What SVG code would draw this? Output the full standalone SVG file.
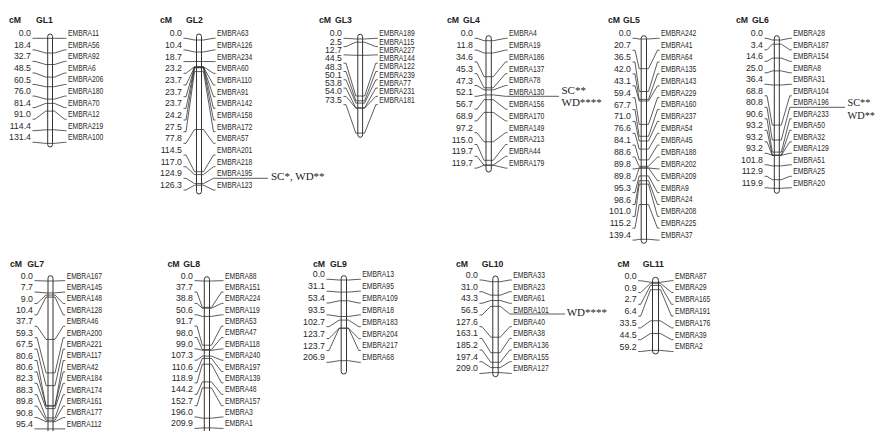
<svg xmlns="http://www.w3.org/2000/svg" width="876" height="431" viewBox="0 0 876 431">
<style>
.hd{font:bold 8.7px "Liberation Sans",Arial,sans-serif;fill:#222}
.num text{font:8.8px "Liberation Sans",Arial,sans-serif;fill:#2a2a2a;text-anchor:end}
.lab text{font:8.8px "Liberation Sans",Arial,sans-serif;fill:#2a2a2a}
.chr{fill:#fff;stroke:#333;stroke-width:1}
#connectors polyline,#connectors line{fill:none;stroke:#333;stroke-width:0.8}
.qtl{font:11px "Liberation Serif","Times New Roman",serif;fill:#222}
</style>
<rect width="876" height="431" fill="#fff"/>

<g id="GL1">
<text class="hd" x="9" y="22.5">cM</text><text class="hd" x="36" y="22.5">GL1</text>
<rect class="chr" x="47.7" y="34" width="4.8" height="113" rx="2.4"/>
<g class="num" transform="translate(31,0)"><text y="36.3">0.0</text><text y="47.9">18.4</text><text y="59.4">32.7</text><text y="71">48.5</text><text y="82.5">60.5</text><text y="94.1">76.0</text><text y="105.6">81.4</text><text y="117.2">91.0</text><text y="128.7">114.4</text><text y="140.3">131.4</text></g>
<g class="lab" transform="translate(68,0) scale(0.77,1)"><text y="36.3">EMBRA11</text><text y="47.9">EMBRA56</text><text y="59.4">EMBRA92</text><text y="71">EMBRA6</text><text y="82.5">EMBRA206</text><text y="94.1">EMBRA180</text><text y="105.6">EMBRA70</text><text y="117.2">EMBRA12</text><text y="128.7">EMBRA219</text><text y="140.3">EMBRA100</text></g>
</g>

<g id="GL2">
<text class="hd" x="160" y="22.5">cM</text><text class="hd" x="186" y="22.5">GL2</text>
<rect class="chr" x="196.5" y="34" width="5" height="160" rx="2.5"/>
<g class="num" transform="translate(182,0)"><text y="36.3">0.0</text><text y="48">10.4</text><text y="59.6">18.7</text><text y="71.3">23.2</text><text y="83">23.7</text><text y="94.7">23.7</text><text y="106.3">23.7</text><text y="118">24.2</text><text y="129.7">27.5</text><text y="141.3">77.8</text><text y="153">114.5</text><text y="164.7">117.0</text><text y="176.3">124.9</text><text y="188">126.3</text></g>
<g class="lab" transform="translate(217,0) scale(0.77,1)"><text y="36.3">EMBRA63</text><text y="48">EMBRA126</text><text y="59.6">EMBRA234</text><text y="71.3">EMBRA60</text><text y="83">EMBRA110</text><text y="94.7">EMBRA91</text><text y="106.3">EMBRA142</text><text y="118">EMBRA158</text><text y="129.7">EMBRA172</text><text y="141.3">EMBRA57</text><text y="153">EMBRA201</text><text y="164.7">EMBRA218</text><text y="176.3">EMBRA195</text><text y="188">EMBRA123</text></g>
<text class="qtl" x="271" y="180">SC*, WD**</text>
</g>

<g id="GL3">
<text class="hd" x="319" y="22.5">cM</text><text class="hd" x="335" y="22.5">GL3</text>
<rect class="chr" x="357.8" y="34.3" width="4.8" height="103" rx="2.4"/>
<g class="num" transform="translate(342,0)"><text y="36.3">0.0</text><text y="44.6">2.5</text><text y="52.9">12.7</text><text y="61.2">44.5</text><text y="69.5">48.3</text><text y="77.8">50.1</text><text y="86.1">53.8</text><text y="94.4">54.0</text><text y="102.7">73.5</text></g>
<g class="lab" transform="translate(379.3,0) scale(0.77,1)"><text y="36.3">EMBRA189</text><text y="44.6">EMBRA115</text><text y="52.9">EMBRA227</text><text y="61.2">EMBRA144</text><text y="69.5">EMBRA122</text><text y="77.8">EMBRA239</text><text y="86.1">EMBRA77</text><text y="94.4">EMBRA231</text><text y="102.7">EMBRA181</text></g>
</g>

<g id="GL4">
<text class="hd" x="447" y="22.5">cM</text><text class="hd" x="463" y="22.5">GL4</text>
<rect class="chr" x="486" y="35.7" width="5.3" height="136.3" rx="2.6"/>
<g class="num" transform="translate(473,0)"><text y="36.3">0.0</text><text y="48.1">11.8</text><text y="59.9">34.6</text><text y="71.7">45.3</text><text y="83.5">47.3</text><text y="95.3">52.1</text><text y="107.1">56.7</text><text y="118.9">68.9</text><text y="130.7">97.2</text><text y="142.5">115.0</text><text y="154.3">119.7</text><text y="166.1">119.7</text></g>
<g class="lab" transform="translate(509,0) scale(0.77,1)"><text y="36.3">EMBRA4</text><text y="48.1">EMBRA19</text><text y="59.9">EMBRA186</text><text y="71.7">EMBRA137</text><text y="83.5">EMBRA78</text><text y="95.3">EMBRA130</text><text y="107.1">EMBRA156</text><text y="118.9">EMBRA170</text><text y="130.7">EMBRA149</text><text y="142.5">EMBRA213</text><text y="154.3">EMBRA44</text><text y="166.1">EMBRA179</text></g>
<text class="qtl" x="561.5" y="94">SC**</text><text class="qtl" x="561.5" y="105.5">WD****</text>
</g>

<g id="GL5">
<text class="hd" x="608" y="22.5">cM</text><text class="hd" x="623" y="22.5">GL5</text>
<rect class="chr" x="641.2" y="35.7" width="5.3" height="207.6" rx="2.6"/>
<g class="num" transform="translate(631,0)"><text y="36.3">0.0</text><text y="48.2">20.7</text><text y="60">36.5</text><text y="71.9">42.0</text><text y="83.8">43.1</text><text y="95.7">59.4</text><text y="107.5">67.7</text><text y="119.4">71.0</text><text y="131.3">76.6</text><text y="143.1">84.1</text><text y="155">88.6</text><text y="166.9">89.8</text><text y="178.7">89.8</text><text y="190.6">95.3</text><text y="202.5">98.6</text><text y="214.4">101.0</text><text y="226.2">115.2</text><text y="238.1">139.4</text></g>
<g class="lab" transform="translate(661,0) scale(0.77,1)"><text y="36.3">EMBRA242</text><text y="48.2">EMBRA41</text><text y="60">EMBRA64</text><text y="71.9">EMBRA135</text><text y="83.8">EMBRA143</text><text y="95.7">EMBRA229</text><text y="107.5">EMBRA160</text><text y="119.4">EMBRA237</text><text y="131.3">EMBRA54</text><text y="143.1">EMBRA45</text><text y="155">EMBRA188</text><text y="166.9">EMBRA202</text><text y="178.7">EMBRA209</text><text y="190.6">EMBRA9</text><text y="202.5">EMBRA24</text><text y="214.4">EMBRA208</text><text y="226.2">EMBRA225</text><text y="238.1">EMBRA37</text></g>
</g>

<g id="GL6">
<text class="hd" x="736" y="22.5">cM</text><text class="hd" x="752" y="22.5">GL6</text>
<rect class="chr" x="774.3" y="35.7" width="5" height="157.6" rx="2.5"/>
<g class="num" transform="translate(763,0)"><text y="36.3">0.0</text><text y="47.8">3.4</text><text y="59.3">14.6</text><text y="70.8">25.0</text><text y="82.3">36.4</text><text y="93.8">68.8</text><text y="105.3">80.8</text><text y="116.8">90.6</text><text y="128.3">93.2</text><text y="139.8">93.2</text><text y="151.3">93.2</text><text y="162.8">101.8</text><text y="174.3">112.9</text><text y="185.8">119.9</text></g>
<g class="lab" transform="translate(793.3,0) scale(0.77,1)"><text y="36.3">EMBRA28</text><text y="47.8">EMBRA187</text><text y="59.3">EMBRA154</text><text y="70.8">EMBRA8</text><text y="82.3">EMBRA31</text><text y="93.8">EMBRA104</text><text y="105.3">EMBRA196</text><text y="116.8">EMBRA233</text><text y="128.3">EMBRA50</text><text y="139.8">EMBRA32</text><text y="151.3">EMBRA129</text><text y="162.8">EMBRA51</text><text y="174.3">EMBRA25</text><text y="185.8">EMBRA20</text></g>
<text class="qtl" x="847.5" y="106" style="font-size:10.3px">SC**</text><text class="qtl" x="847.5" y="119" style="font-size:10.3px">WD**</text>
</g>

<g id="GL7">
<text class="hd" x="10" y="266.5">cM</text><text class="hd" x="27.3" y="266.5">GL7</text>
<rect class="chr" x="48" y="275.7" width="5" height="165" rx="2.5"/>
<g class="num" transform="translate(33,0)"><text y="278.7">0.0</text><text y="290.1">7.7</text><text y="301.5">9.0</text><text y="312.9">10.4</text><text y="324.3">37.7</text><text y="335.7">59.3</text><text y="347.1">67.5</text><text y="358.5">80.6</text><text y="369.9">80.6</text><text y="381.3">82.3</text><text y="392.7">88.3</text><text y="404.1">89.8</text><text y="415.5">90.8</text><text y="426.9">95.4</text></g>
<g class="lab" transform="translate(66.7,0) scale(0.77,1)"><text y="278.7">EMBRA167</text><text y="290.1">EMBRA145</text><text y="301.5">EMBRA148</text><text y="312.9">EMBRA128</text><text y="324.3">EMBRA46</text><text y="335.7">EMBRA200</text><text y="347.1">EMBRA221</text><text y="358.5">EMBRA117</text><text y="369.9">EMBRA42</text><text y="381.3">EMBRA184</text><text y="392.7">EMBRA174</text><text y="404.1">EMBRA161</text><text y="415.5">EMBRA177</text><text y="426.9">EMBRA112</text></g>
</g>

<g id="GL8">
<text class="hd" x="167.5" y="266.5">cM</text><text class="hd" x="183.3" y="266.5">GL8</text>
<rect class="chr" x="204.3" y="276.7" width="5.2" height="165" rx="2.6"/>
<g class="num" transform="translate(193,0)"><text y="278.7">0.0</text><text y="290.1">37.7</text><text y="301.4">38.8</text><text y="312.8">50.6</text><text y="324.1">91.7</text><text y="335.5">98.0</text><text y="346.9">99.0</text><text y="358.2">107.3</text><text y="369.6">110.6</text><text y="380.9">118.9</text><text y="392.3">144.2</text><text y="403.7">152.7</text><text y="415">196.0</text><text y="426.4">209.9</text></g>
<g class="lab" transform="translate(225,0) scale(0.77,1)"><text y="278.7">EMBRA88</text><text y="290.1">EMBRA151</text><text y="301.4">EMBRA224</text><text y="312.8">EMBRA119</text><text y="324.1">EMBRA53</text><text y="335.5">EMBRA47</text><text y="346.9">EMBRA118</text><text y="358.2">EMBRA240</text><text y="369.6">EMBRA197</text><text y="380.9">EMBRA139</text><text y="392.3">EMBRA48</text><text y="403.7">EMBRA157</text><text y="415">EMBRA3</text><text y="426.4">EMBRA1</text></g>
</g>

<g id="GL9">
<text class="hd" x="313" y="266.5">cM</text><text class="hd" x="330" y="266.5">GL9</text>
<rect class="chr" x="341.2" y="275.7" width="5.3" height="98.3" rx="2.6"/>
<g class="num" transform="translate(325,0)"><text y="277.3">0.0</text><text y="289.2">31.1</text><text y="301">53.4</text><text y="312.9">93.5</text><text y="324.7">102.7</text><text y="336.6">123.7</text><text y="348.5">123.7</text><text y="360.3">206.9</text></g>
<g class="lab" transform="translate(362.3,0) scale(0.77,1)"><text y="277.3">EMBRA13</text><text y="289.2">EMBRA95</text><text y="301">EMBRA109</text><text y="312.9">EMBRA18</text><text y="324.7">EMBRA183</text><text y="336.6">EMBRA204</text><text y="348.5">EMBRA217</text><text y="360.3">EMBRA68</text></g>
</g>

<g id="GL10">
<text class="hd" x="456" y="266.5">cM</text><text class="hd" x="481.7" y="266.5">GL10</text>
<rect class="chr" x="492.8" y="276" width="5.4" height="100.7" rx="2.7"/>
<g class="num" transform="translate(478,0)"><text y="278">0.0</text><text y="289.7">31.0</text><text y="301.3">43.3</text><text y="313">56.5</text><text y="324.7">127.6</text><text y="336.4">163.1</text><text y="348">185.2</text><text y="359.7">197.4</text><text y="371.4">209.0</text></g>
<g class="lab" transform="translate(513.3,0) scale(0.77,1)"><text y="278">EMBRA33</text><text y="289.7">EMBRA23</text><text y="301.3">EMBRA61</text><text y="313">EMBRA101</text><text y="324.7">EMBRA40</text><text y="336.4">EMBRA38</text><text y="348">EMBRA136</text><text y="359.7">EMBRA155</text><text y="371.4">EMBRA127</text></g>
<text class="qtl" x="566.7" y="316">WD****</text>
</g>

<g id="GL11">
<text class="hd" x="617.5" y="266.5">cM</text><text class="hd" x="642.7" y="266.5">GL11</text>
<rect class="chr" x="652.5" y="277.3" width="6" height="76.7" rx="3"/>
<g class="num" transform="translate(636.7,0)"><text y="278.7">0.0</text><text y="290.5">0.9</text><text y="302.3">2.7</text><text y="314.1">6.4</text><text y="325.9">33.5</text><text y="337.7">44.5</text><text y="349.5">59.2</text></g>
<g class="lab" transform="translate(675,0) scale(0.77,1)"><text y="278.7">EMBRA87</text><text y="290.5">EMBRA29</text><text y="302.3">EMBRA165</text><text y="314.1">EMBRA191</text><text y="325.9">EMBRA176</text><text y="337.7">EMBRA39</text><text y="349.5">EMBRA2</text></g>
</g>

<g id="connectors">
<!-- GL1 -->
<polyline points="32.5,38.3 35,38.3 45.7,38.3 54.5,38.3 64.5,38.3 66.5,38.3"/>
<polyline points="32.5,49.9 35,49.9 45.7,53 54.5,53 64.5,49.9 66.5,49.9"/>
<polyline points="32.5,61.4 35,61.4 45.7,64.5 54.5,64.5 64.5,61.4 66.5,61.4"/>
<polyline points="32.5,73 35,73 45.7,77.1 54.5,77.1 64.5,73 66.5,73"/>
<polyline points="32.5,84.5 35,84.5 45.7,86.7 54.5,86.7 64.5,84.5 66.5,84.5"/>
<polyline points="32.5,96.1 35,96.1 45.7,99.1 54.5,99.1 64.5,96.1 66.5,96.1"/>
<polyline points="32.5,107.6 35,107.6 45.7,103.4 54.5,103.4 64.5,107.6 66.5,107.6"/>
<polyline points="32.5,119.2 35,119.2 45.7,111.1 54.5,111.1 64.5,119.2 66.5,119.2"/>
<polyline points="32.5,130.7 35,130.7 45.7,129.8 54.5,129.8 64.5,130.7 66.5,130.7"/>
<polyline points="32.5,142.3 35,142.3 45.7,143.4 54.5,143.4 64.5,142.3 66.5,142.3"/>
<!-- GL2 -->
<polyline points="183.5,38.3 186,38.3 194.5,40 203.5,40 213.5,38.3 215.5,38.3"/>
<polyline points="183.5,50 186,50 194.5,52 203.5,52 213.5,50 215.5,50"/>
<polyline points="183.5,61.6 186,61.6 194.5,61.5 203.5,61.5 213.5,61.6 215.5,61.6"/>
<polyline points="183.5,73.3 186,73.3 194.5,66.7 203.5,66.7 213.5,73.3 215.5,73.3"/>
<polyline points="183.5,85 186,85 194.5,67.3 203.5,67.3 213.5,85 215.5,85"/>
<polyline points="183.5,96.7 186,96.7 194.5,67.3 203.5,67.3 213.5,96.7 215.5,96.7"/>
<polyline points="183.5,108.3 186,108.3 194.5,67.3 203.5,67.3 213.5,108.3 215.5,108.3"/>
<polyline points="183.5,120 186,120 194.5,67.8 203.5,67.8 213.5,120 215.5,120"/>
<polyline points="183.5,131.7 186,131.7 194.5,71.6 203.5,71.6 213.5,131.7 215.5,131.7"/>
<polyline points="183.5,143.3 186,143.3 194.5,129.5 203.5,129.5 213.5,143.3 215.5,143.3"/>
<polyline points="183.5,155 186,155 194.5,171.7 203.5,171.7 213.5,155 215.5,155"/>
<polyline points="183.5,166.7 186,166.7 194.5,174.6 203.5,174.6 213.5,166.7 215.5,166.7"/>
<polyline points="183.5,178.3 186,178.3 194.5,183.6 203.5,183.6 213.5,178.3 268,178.3"/>
<polyline points="183.5,190 186,190 194.5,185.2 203.5,185.2 213.5,190 215.5,190"/>
<!-- GL3 -->
<polyline points="343.5,38.3 346,38.3 355.8,39 364.6,39 375.8,38.3 377.8,38.3"/>
<polyline points="343.5,46.6 346,46.6 355.8,42.2 364.6,42.2 375.8,46.6 377.8,46.6"/>
<polyline points="343.5,54.9 346,54.9 355.8,55.3 364.6,55.3 375.8,54.9 377.8,54.9"/>
<polyline points="343.5,63.2 346,63.2 355.8,96 364.6,96 375.8,63.2 377.8,63.2"/>
<polyline points="343.5,71.5 346,71.5 355.8,100.8 364.6,100.8 375.8,71.5 377.8,71.5"/>
<polyline points="343.5,79.8 346,79.8 355.8,103.1 364.6,103.1 375.8,79.8 377.8,79.8"/>
<polyline points="343.5,88.1 346,88.1 355.8,107.9 364.6,107.9 375.8,88.1 377.8,88.1"/>
<polyline points="343.5,96.4 346,96.4 355.8,108.1 364.6,108.1 375.8,96.4 377.8,96.4"/>
<polyline points="343.5,104.7 346,104.7 355.8,133.1 364.6,133.1 375.8,104.7 377.8,104.7"/>
<!-- GL4 -->
<polyline points="474.5,38.3 477,38.3 484,40.7 493.3,40.7 505.5,38.3 507.5,38.3"/>
<polyline points="474.5,50.1 477,50.1 484,53 493.3,53 505.5,50.1 507.5,50.1"/>
<polyline points="474.5,61.9 477,61.9 484,76.7 493.3,76.7 505.5,61.9 507.5,61.9"/>
<polyline points="474.5,73.7 477,73.7 484,87.8 493.3,87.8 505.5,73.7 507.5,73.7"/>
<polyline points="474.5,85.5 477,85.5 484,89.9 493.3,89.9 505.5,85.5 507.5,85.5"/>
<polyline points="474.5,96.3 477,96.3 484,94.9 493.3,94.9 505.5,96.3 559,96.3"/>
<polyline points="474.5,109.1 477,109.1 484,99.7 493.3,99.7 505.5,109.1 507.5,109.1"/>
<polyline points="474.5,120.9 477,120.9 484,112.4 493.3,112.4 505.5,120.9 507.5,120.9"/>
<polyline points="474.5,132.7 477,132.7 484,141.8 493.3,141.8 505.5,132.7 507.5,132.7"/>
<polyline points="474.5,144.5 477,144.5 484,160.3 493.3,160.3 505.5,144.5 507.5,144.5"/>
<polyline points="474.5,156.3 477,156.3 484,165.2 493.3,165.2 505.5,156.3 507.5,156.3"/>
<polyline points="474.5,168.1 477,168.1 484,165.2 493.3,165.2 505.5,168.1 507.5,168.1"/>
<!-- GL5 -->
<polyline points="632.5,38.3 635,38.3 639.2,39 648.5,39 657.5,38.3 659.5,38.3"/>
<polyline points="632.5,50.2 635,50.2 639.2,68.7 648.5,68.7 657.5,50.2 659.5,50.2"/>
<polyline points="632.5,62 635,62 639.2,91.5 648.5,91.5 657.5,62 659.5,62"/>
<polyline points="632.5,73.9 635,73.9 639.2,99.4 648.5,99.4 657.5,73.9 659.5,73.9"/>
<polyline points="632.5,85.8 635,85.8 639.2,101 648.5,101 657.5,85.8 659.5,85.8"/>
<polyline points="632.5,97.7 635,97.7 639.2,124.4 648.5,124.4 657.5,97.7 659.5,97.7"/>
<polyline points="632.5,109.5 635,109.5 639.2,136.3 648.5,136.3 657.5,109.5 659.5,109.5"/>
<polyline points="632.5,121.4 635,121.4 639.2,141 648.5,141 657.5,121.4 659.5,121.4"/>
<polyline points="632.5,133.3 635,133.3 639.2,149.1 648.5,149.1 657.5,133.3 659.5,133.3"/>
<polyline points="632.5,145.1 635,145.1 639.2,159.9 648.5,159.9 657.5,145.1 659.5,145.1"/>
<polyline points="632.5,157 635,157 639.2,166.3 648.5,166.3 657.5,157 659.5,157"/>
<polyline points="632.5,168.9 635,168.9 639.2,168 648.5,168 657.5,168.9 659.5,168.9"/>
<polyline points="632.5,180.7 635,180.7 639.2,168 648.5,168 657.5,180.7 659.5,180.7"/>
<polyline points="632.5,192.6 635,192.6 639.2,175.9 648.5,175.9 657.5,192.6 659.5,192.6"/>
<polyline points="632.5,204.5 635,204.5 639.2,180.7 648.5,180.7 657.5,204.5 659.5,204.5"/>
<polyline points="632.5,216.4 635,216.4 639.2,184.1 648.5,184.1 657.5,216.4 659.5,216.4"/>
<polyline points="632.5,228.2 635,228.2 639.2,204.5 648.5,204.5 657.5,228.2 659.5,228.2"/>
<polyline points="632.5,240.1 635,240.1 639.2,239.3 648.5,239.3 657.5,240.1 659.5,240.1"/>
<!-- GL6 -->
<polyline points="764.5,38.3 767,38.3 772.3,40 781.3,40 789.8,38.3 791.8,38.3"/>
<polyline points="764.5,49.8 767,49.8 772.3,44.2 781.3,44.2 789.8,49.8 791.8,49.8"/>
<polyline points="764.5,61.3 767,61.3 772.3,58.1 781.3,58.1 789.8,61.3 791.8,61.3"/>
<polyline points="764.5,72.8 767,72.8 772.3,70.9 781.3,70.9 789.8,72.8 791.8,72.8"/>
<polyline points="764.5,84.3 767,84.3 772.3,85 781.3,85 789.8,84.3 791.8,84.3"/>
<polyline points="764.5,95.8 767,95.8 772.3,125.1 781.3,125.1 789.8,95.8 791.8,95.8"/>
<polyline points="764.5,107.3 767,107.3 772.3,140 781.3,140 789.8,107.3 845,107.3"/>
<polyline points="764.5,118.8 767,118.8 772.3,152.1 781.3,152.1 789.8,118.8 791.8,118.8"/>
<polyline points="764.5,130.3 767,130.3 772.3,155.3 781.3,155.3 789.8,130.3 791.8,130.3"/>
<polyline points="764.5,141.8 767,141.8 772.3,155.3 781.3,155.3 789.8,141.8 791.8,141.8"/>
<polyline points="764.5,153.3 767,153.3 772.3,155.3 781.3,155.3 789.8,153.3 791.8,153.3"/>
<polyline points="764.5,164.8 767,164.8 772.3,165.9 781.3,165.9 789.8,164.8 791.8,164.8"/>
<polyline points="764.5,176.3 767,176.3 772.3,179.7 781.3,179.7 789.8,176.3 791.8,176.3"/>
<polyline points="764.5,187.8 767,187.8 772.3,188.3 781.3,188.3 789.8,187.8 791.8,187.8"/>
<!-- GL7 -->
<polyline points="34.5,280.7 37,280.7 46,281 55,281 63.2,280.7 65.2,280.7"/>
<polyline points="34.5,292.1 37,292.1 46,292.9 55,292.9 63.2,292.1 65.2,292.1"/>
<polyline points="34.5,303.5 37,303.5 46,295 55,295 63.2,303.5 65.2,303.5"/>
<polyline points="34.5,314.9 37,314.9 46,297.1 55,297.1 63.2,314.9 65.2,314.9"/>
<polyline points="34.5,326.3 37,326.3 46,339.4 55,339.4 63.2,326.3 65.2,326.3"/>
<polyline points="34.5,337.7 37,337.7 46,372.9 55,372.9 63.2,337.7 65.2,337.7"/>
<polyline points="34.5,349.1 37,349.1 46,385.6 55,385.6 63.2,349.1 65.2,349.1"/>
<polyline points="34.5,360.5 37,360.5 46,405.9 55,405.9 63.2,360.5 65.2,360.5"/>
<polyline points="34.5,371.9 37,371.9 46,405.9 55,405.9 63.2,371.9 65.2,371.9"/>
<polyline points="34.5,383.3 37,383.3 46,408.6 55,408.6 63.2,383.3 65.2,383.3"/>
<polyline points="34.5,394.7 37,394.7 46,417.9 55,417.9 63.2,394.7 65.2,394.7"/>
<polyline points="34.5,406.1 37,406.1 46,420.2 55,420.2 63.2,406.1 65.2,406.1"/>
<polyline points="34.5,417.5 37,417.5 46,421.7 55,421.7 63.2,417.5 65.2,417.5"/>
<polyline points="34.5,428.9 37,428.9 46,428.9 55,428.9 63.2,428.9 65.2,428.9"/>
<!-- GL8 -->
<polyline points="194.5,280.7 197,280.7 202.3,281 211.5,281 221.5,280.7 223.5,280.7"/>
<polyline points="194.5,292.1 197,292.1 202.3,307.4 211.5,307.4 221.5,292.1 223.5,292.1"/>
<polyline points="194.5,303.4 197,303.4 202.3,308.2 211.5,308.2 221.5,303.4 223.5,303.4"/>
<polyline points="194.5,314.8 197,314.8 202.3,316.4 211.5,316.4 221.5,314.8 223.5,314.8"/>
<polyline points="194.5,326.1 197,326.1 202.3,345.2 211.5,345.2 221.5,326.1 223.5,326.1"/>
<polyline points="194.5,337.5 197,337.5 202.3,349.6 211.5,349.6 221.5,337.5 223.5,337.5"/>
<polyline points="194.5,348.9 197,348.9 202.3,350.3 211.5,350.3 221.5,348.9 223.5,348.9"/>
<polyline points="194.5,360.2 197,360.2 202.3,356.1 211.5,356.1 221.5,360.2 223.5,360.2"/>
<polyline points="194.5,371.6 197,371.6 202.3,358.4 211.5,358.4 221.5,371.6 223.5,371.6"/>
<polyline points="194.5,382.9 197,382.9 202.3,364.2 211.5,364.2 221.5,382.9 223.5,382.9"/>
<polyline points="194.5,394.3 197,394.3 202.3,381.9 211.5,381.9 221.5,394.3 223.5,394.3"/>
<polyline points="194.5,405.7 197,405.7 202.3,387.9 211.5,387.9 221.5,405.7 223.5,405.7"/>
<polyline points="194.5,417 197,417 202.3,418.2 211.5,418.2 221.5,417 223.5,417"/>
<polyline points="194.5,428.4 197,428.4 202.3,427.9 211.5,427.9 221.5,428.4 223.5,428.4"/>
<!-- GL9 -->
<polyline points="326.5,279.3 329,279.3 339.2,280 348.5,280 358.8,279.3 360.8,279.3"/>
<polyline points="326.5,291.2 329,291.2 339.2,292.1 348.5,292.1 358.8,291.2 360.8,291.2"/>
<polyline points="326.5,303 329,303 339.2,300.8 348.5,300.8 358.8,303 360.8,303"/>
<polyline points="326.5,314.9 329,314.9 339.2,316.5 348.5,316.5 358.8,314.9 360.8,314.9"/>
<polyline points="326.5,326.7 329,326.7 339.2,320.1 348.5,320.1 358.8,326.7 360.8,326.7"/>
<polyline points="326.5,338.6 329,338.6 339.2,328.2 348.5,328.2 358.8,338.6 360.8,338.6"/>
<polyline points="326.5,350.5 329,350.5 339.2,328.2 348.5,328.2 358.8,350.5 360.8,350.5"/>
<polyline points="326.5,362.3 329,362.3 339.2,360.7 348.5,360.7 358.8,362.3 360.8,362.3"/>
<!-- GL10 -->
<polyline points="479.5,280 482,280 490.8,281.7 500.2,281.7 509.8,280 511.8,280"/>
<polyline points="479.5,291.7 482,291.7 490.8,295.2 500.2,295.2 509.8,291.7 511.8,291.7"/>
<polyline points="479.5,303.3 482,303.3 490.8,300.5 500.2,300.5 509.8,303.3 511.8,303.3"/>
<polyline points="479.5,315 482,315 490.8,306.3 500.2,306.3 509.8,314 565,314"/>
<polyline points="479.5,326.7 482,326.7 490.8,337.2 500.2,337.2 509.8,326.7 511.8,326.7"/>
<polyline points="479.5,338.4 482,338.4 490.8,352.7 500.2,352.7 509.8,338.4 511.8,338.4"/>
<polyline points="479.5,350 482,350 490.8,362.3 500.2,362.3 509.8,350 511.8,350"/>
<polyline points="479.5,361.7 482,361.7 490.8,367.6 500.2,367.6 509.8,361.7 511.8,361.7"/>
<polyline points="479.5,373.4 482,373.4 490.8,372.6 500.2,372.6 509.8,373.4 511.8,373.4"/>
<!-- GL11 -->
<polyline points="638.2,280.7 640.7,280.7 650.5,282.3 660.5,282.3 671.5,280.7 673.5,280.7"/>
<polyline points="638.2,292.5 640.7,292.5 650.5,283.3 660.5,283.3 671.5,292.5 673.5,292.5"/>
<polyline points="638.2,304.3 640.7,304.3 650.5,285.4 660.5,285.4 671.5,304.3 673.5,304.3"/>
<polyline points="638.2,316.1 640.7,316.1 650.5,289.7 660.5,289.7 671.5,316.1 673.5,316.1"/>
<polyline points="638.2,327.9 640.7,327.9 650.5,320.8 660.5,320.8 671.5,327.9 673.5,327.9"/>
<polyline points="638.2,339.7 640.7,339.7 650.5,333.5 660.5,333.5 671.5,339.7 673.5,339.7"/>
<polyline points="638.2,351.5 640.7,351.5 650.5,350.4 660.5,350.4 671.5,351.5 673.5,351.5"/>
</g>
</svg>
